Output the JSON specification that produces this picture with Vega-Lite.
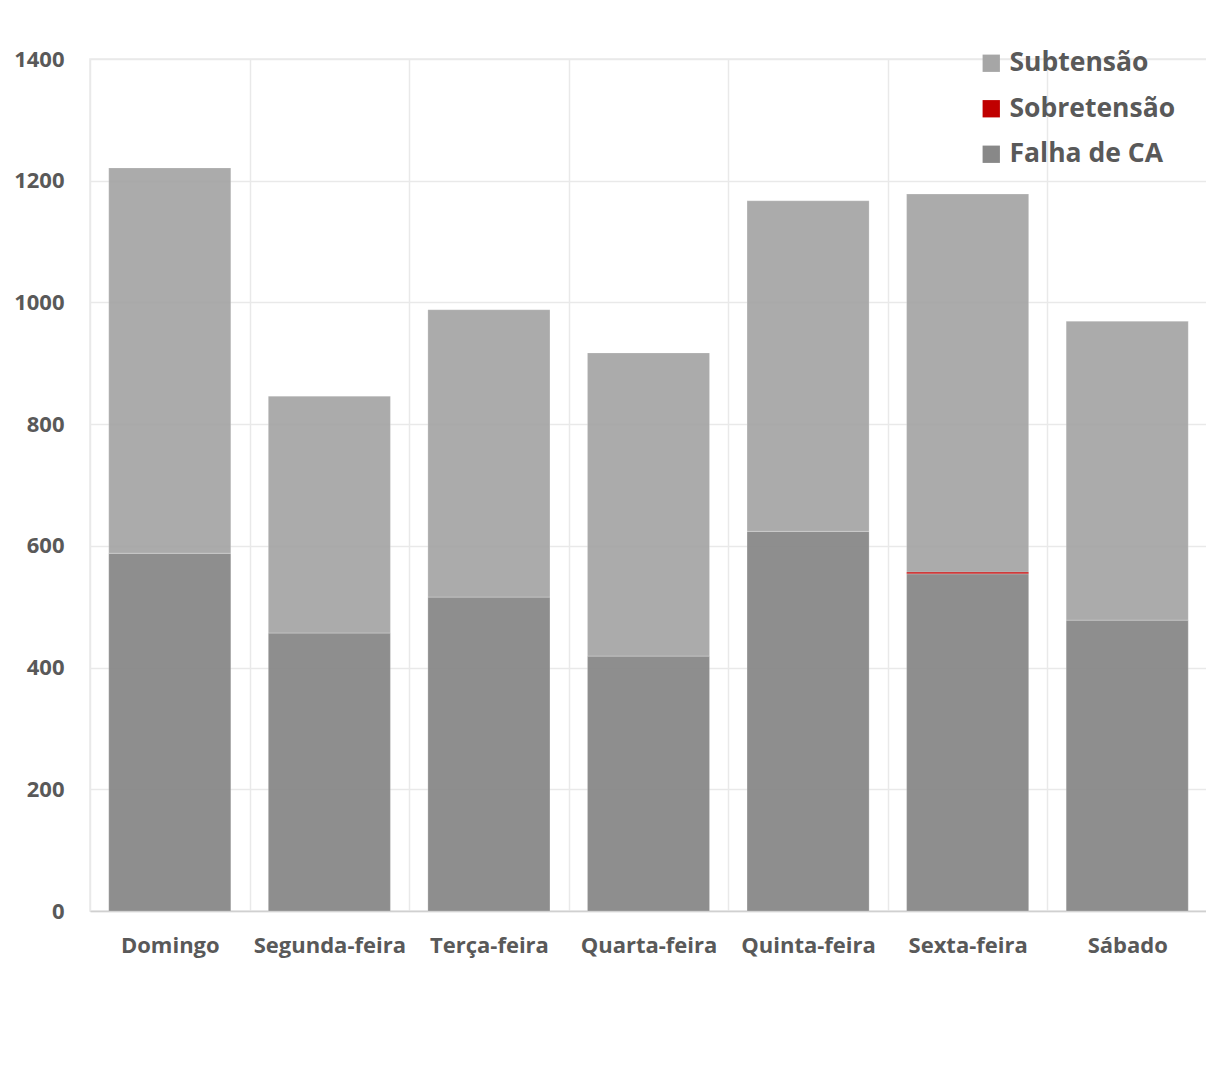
{
  "$schema": "https://vega.github.io/schema/vega-lite/v6.json",
  "width": 1117,
  "height": 852,
  "autosize": {"type": "none"},
  "padding": {"left": 90, "top": 59, "right": 0, "bottom": 159},
  "background": "white",
  "data": {
    "values": [
      {"dia": "Domingo", "tipo": "Falha de CA", "ordem": 1, "valor": 588},
      {"dia": "Domingo", "tipo": "Sobretensão", "ordem": 2, "valor": 0},
      {"dia": "Domingo", "tipo": "Subtensão", "ordem": 3, "valor": 633},
      {"dia": "Segunda-feira", "tipo": "Falha de CA", "ordem": 1, "valor": 457},
      {"dia": "Segunda-feira", "tipo": "Sobretensão", "ordem": 2, "valor": 0},
      {"dia": "Segunda-feira", "tipo": "Subtensão", "ordem": 3, "valor": 389},
      {"dia": "Terça-feira", "tipo": "Falha de CA", "ordem": 1, "valor": 516},
      {"dia": "Terça-feira", "tipo": "Sobretensão", "ordem": 2, "valor": 0},
      {"dia": "Terça-feira", "tipo": "Subtensão", "ordem": 3, "valor": 472},
      {"dia": "Quarta-feira", "tipo": "Falha de CA", "ordem": 1, "valor": 419},
      {"dia": "Quarta-feira", "tipo": "Sobretensão", "ordem": 2, "valor": 0},
      {"dia": "Quarta-feira", "tipo": "Subtensão", "ordem": 3, "valor": 498},
      {"dia": "Quinta-feira", "tipo": "Falha de CA", "ordem": 1, "valor": 624},
      {"dia": "Quinta-feira", "tipo": "Sobretensão", "ordem": 2, "valor": 0},
      {"dia": "Quinta-feira", "tipo": "Subtensão", "ordem": 3, "valor": 543},
      {"dia": "Sexta-feira", "tipo": "Falha de CA", "ordem": 1, "valor": 554},
      {"dia": "Sexta-feira", "tipo": "Sobretensão", "ordem": 2, "valor": 3},
      {"dia": "Sexta-feira", "tipo": "Subtensão", "ordem": 3, "valor": 621},
      {"dia": "Sábado", "tipo": "Falha de CA", "ordem": 1, "valor": 478},
      {"dia": "Sábado", "tipo": "Sobretensão", "ordem": 2, "valor": 0},
      {"dia": "Sábado", "tipo": "Subtensão", "ordem": 3, "valor": 491}
    ]
  },
  "mark": {"type": "bar", "width": {"band": 0.765}, "opacity": 0.94, "stroke": "#ffffff", "strokeWidth": 0.6, "strokeOpacity": 0.35},
  "encoding": {
    "x": {
      "field": "dia",
      "type": "nominal",
      "sort": ["Domingo", "Segunda-feira", "Terça-feira", "Quarta-feira", "Quinta-feira", "Sexta-feira", "Sábado"],
      "scale": {"paddingInner": 0, "paddingOuter": 0},
      "axis": {
        "title": null,
        "labelAngle": 0,
        "ticks": false,
        "tickBand": "extent",
        "grid": true,
        "gridColor": "#e9e9e9",
        "gridWidth": 1.5,
        "domainColor": "#d0d0d0",
        "domainWidth": 1.5,
        "labelPadding": 24,
        "labelFont": "Open Sans",
        "labelFontSize": 22,
        "labelFontWeight": "bold",
        "labelColor": "#595959"
      }
    },
    "y": {
      "field": "valor",
      "type": "quantitative",
      "stack": "zero",
      "scale": {"domain": [0, 1400], "nice": false},
      "axis": {
        "title": null,
        "values": [0, 200, 400, 600, 800, 1000, 1200, 1400],
        "format": "d",
        "ticks": false,
        "domain": false,
        "grid": true,
        "gridColor": "#e9e9e9",
        "gridWidth": 1.5,
        "labelPadding": 26,
        "labelFont": "Open Sans",
        "labelFontSize": 22,
        "labelFontWeight": "bold",
        "labelColor": "#595959"
      }
    },
    "color": {
      "field": "tipo",
      "type": "nominal",
      "scale": {
        "domain": ["Subtensão", "Sobretensão", "Falha de CA"],
        "range": ["#a6a6a6", "#c00000", "#888888"]
      },
      "legend": {
        "title": null,
        "orient": "none",
        "legendX": 888,
        "legendY": -9,
        "symbolType": "square",
        "symbolSize": 300,
        "symbolStrokeWidth": 0,
        "symbolOpacity": 1,
        "labelFont": "Open Sans",
        "labelFontSize": 26.5,
        "labelFontWeight": "bold",
        "labelColor": "#595959",
        "labelOffset": 5,
        "rowPadding": 18.5,
        "labelLimit": 300
      }
    },
    "order": {"field": "ordem", "type": "quantitative"}
  },
  "config": {
    "view": {"stroke": "#e9e9e9", "strokeWidth": 1.5}
  }
}
